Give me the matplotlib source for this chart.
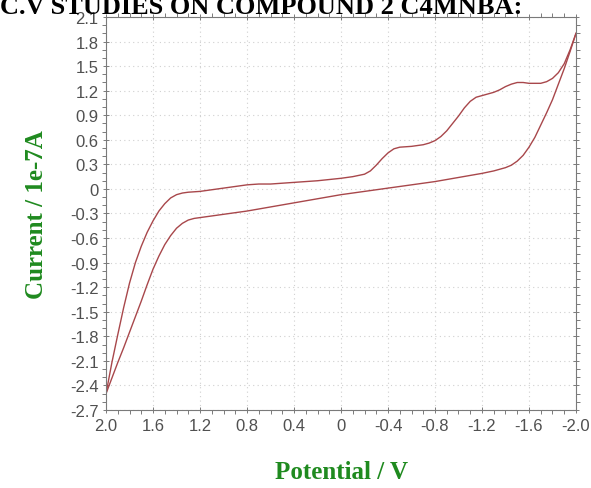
import matplotlib
matplotlib.use("Agg")
import matplotlib.pyplot as plt
from matplotlib.ticker import MultipleLocator, FixedLocator

# cathodic sweep, 2.0 V -> -2.0 V
forward_potential = [2.0, 1.95, 1.9, 1.85, 1.8, 1.75, 1.7, 1.65, 1.6, 1.55, 1.5, 1.45, 1.4, 1.35,
                     1.3, 1.2, 1.1, 1.0, 0.9, 0.8, 0.7, 0.6, 0.5, 0.4, 0.3, 0.2, 0.1, 0.0, -0.1,
                     -0.2, -0.25, -0.3, -0.35, -0.4, -0.45, -0.5, -0.6, -0.7, -0.75, -0.8, -0.85,
                     -0.9, -0.95, -1.0, -1.05, -1.1, -1.15, -1.2, -1.3, -1.35, -1.4, -1.45, -1.5,
                     -1.55, -1.6, -1.7, -1.75, -1.8, -1.85, -1.9, -1.95, -2.0]
forward_current = [-2.50, -2.12, -1.78, -1.45, -1.15, -0.90, -0.70, -0.53, -0.39, -0.27, -0.18,
                   -0.11, -0.07, -0.05, -0.04, -0.03, -0.01, 0.01, 0.03, 0.05, 0.06, 0.06, 0.07,
                   0.08, 0.09, 0.10, 0.115, 0.13, 0.15, 0.18, 0.22, 0.29, 0.37, 0.44, 0.49, 0.51,
                   0.52, 0.54, 0.56, 0.59, 0.64, 0.71, 0.80, 0.89, 0.99, 1.07, 1.12, 1.14, 1.18,
                   1.21, 1.25, 1.28, 1.30, 1.30, 1.29, 1.29, 1.31, 1.35, 1.42, 1.53, 1.70, 1.90]

# return sweep, -2.0 V -> 2.0 V
reverse_potential = [-2.0, -1.95, -1.9, -1.85, -1.8, -1.75, -1.7, -1.65, -1.6, -1.55, -1.5,
                     -1.45, -1.4, -1.3, -1.2, -1.0, -0.8, -0.6, -0.4, -0.2, 0.0, 0.2, 0.4, 0.6,
                     0.8, 1.0, 1.1, 1.2, 1.25, 1.3, 1.35, 1.4, 1.45, 1.5, 1.55, 1.6, 1.65, 1.7,
                     1.75, 1.8, 1.85, 1.9, 1.95, 2.0]
reverse_current = [1.90, 1.68, 1.47, 1.28, 1.09, 0.93, 0.78, 0.63, 0.51, 0.41, 0.34, 0.29, 0.26,
                   0.22, 0.19, 0.14, 0.09, 0.05, 0.01, -0.03, -0.07, -0.12, -0.17, -0.22, -0.27,
                   -0.31, -0.33, -0.35, -0.36, -0.38, -0.42, -0.48, -0.57, -0.68, -0.82, -0.98,
                   -1.17, -1.37, -1.56, -1.75, -1.94, -2.12, -2.31, -2.50]

x_ticks = [2.0, 1.6, 1.2, 0.8, 0.4, 0, -0.4, -0.8, -1.2, -1.6, -2.0]
x_tick_labels = ["2.0", "1.6", "1.2", "0.8", "0.4", "0", "-0.4", "-0.8", "-1.2", "-1.6", "-2.0"]
y_ticks = [2.1, 1.8, 1.5, 1.2, 0.9, 0.6, 0.3, 0, -0.3, -0.6, -0.9, -1.2, -1.5, -1.8, -2.1, -2.4, -2.7]
y_tick_labels = ["2.1", "1.8", "1.5", "1.2", "0.9", "0.6", "0.3", "0", "-0.3", "-0.6", "-0.9",
                 "-1.2", "-1.5", "-1.8", "-2.1", "-2.4", "-2.7"]

fig = plt.figure(figsize=(5.91, 4.89), dpi=100)
ax = fig.add_axes([0.1794, 0.1595, 0.7952, 0.8037])

line_color = "#a8474b"
ax.plot(forward_potential, forward_current, color=line_color, lw=1.0)
ax.plot(reverse_potential, reverse_current, color=line_color, lw=1.0)

ax.set_xlim(2.0, -2.0)
ax.set_ylim(-2.7, 2.1)
ax.xaxis.set_major_locator(FixedLocator(x_ticks))
ax.set_xticklabels(x_tick_labels)
ax.yaxis.set_major_locator(FixedLocator(y_ticks))
ax.set_yticklabels(y_tick_labels)
ax.xaxis.set_minor_locator(MultipleLocator(0.1))
ax.yaxis.set_minor_locator(MultipleLocator(0.1))

ax.grid(True, which="major", color="#d0d0d0", linestyle=(0, (1, 3)), lw=0.8)
for side in ax.spines.values():
    side.set_color("#7a7a7a")
    side.set_linewidth(0.8)

ax.tick_params(which="both", top=True, right=True, color="#7a7a7a", width=0.7,
               labelcolor="#505050", labelsize=12, pad=3)
ax.tick_params(which="major", length=5, direction="inout")
ax.tick_params(which="minor", length=3, direction="out")
for lbl in ax.get_xticklabels() + ax.get_yticklabels():
    lbl.set_family("Liberation Sans")

label_font = dict(family="Liberation Serif", weight="bold", size=18, color="#1f8a1f")
ax.set_xlabel("Potential / V", labelpad=20, **label_font)
ax.set_ylabel("Current / 1e-7A", labelpad=16, **label_font)

fig.text(0.0, 1 - 14 / 489, "C.V STUDIES ON COMPOUND 2 C4MNBA:", ha="left", va="baseline",
         family="Liberation Serif", weight="bold", size=19, color="black")

fig.savefig("out.png", dpi=100)
